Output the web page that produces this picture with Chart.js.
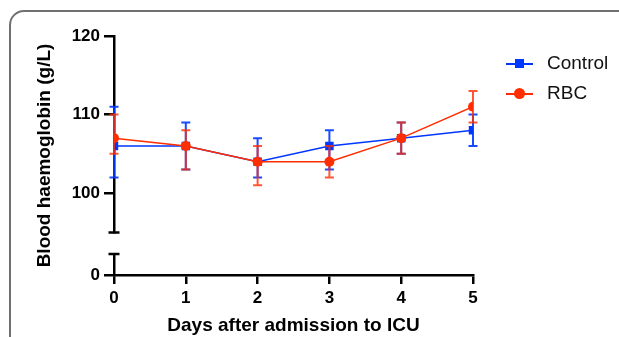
<!DOCTYPE html>
<html><head><meta charset="utf-8">
<script src="https://cdn.jsdelivr.net/npm/chart.js@4.4.0/dist/chart.umd.min.js"></script>
<style>
html,body{margin:0;padding:0;background:#fff;overflow:hidden}
#wrap{position:relative;width:619px;height:337px;overflow:hidden}
#frame{position:absolute;left:9px;top:10px;width:700px;height:400px;border:2px solid #707070;border-radius:15px;box-sizing:border-box}
#c{position:absolute;left:0;top:0}
.leg{position:absolute;left:506px;height:20px;width:110px;font:19px "Liberation Sans",Arial,sans-serif;color:#111}
.leg .ln{position:absolute;left:0;top:9px;width:27px;height:1.5px}
.leg .mk{position:absolute}
.leg .tx{position:absolute;left:41px;top:-2px;line-height:22px;white-space:nowrap}
</style></head><body>
<div id="wrap"><div id="frame"></div><canvas id="c" width="619" height="337"></canvas><div id="legend"></div></div>
<script>
// ---- data ----
const days = [0, 1, 2, 3, 4, 5];
const seriesNames = ['Control', 'RBC'];
const controlMean  = [106, 106, 104, 106, 107, 108];
const controlUpper = [111, 109, 107, 108, 109, 110];
const controlLower = [102, 103, 102, 103, 105, 106];
const rbcMean  = [107, 106, 104, 104, 107, 111];
const rbcUpper = [110, 108, 106, 106, 109, 113];
const rbcLower = [105, 103, 101, 102, 105, 109];
const yUpperTicks = [100, 110, 120];
const yLowerTicks = [0];
const xTitle = 'Days after admission to ICU';
const yTitle = 'Blood haemoglobin (g/L)';

// ---- styles ----
const BLUE = 'rgb(0,55,255)';
const RED = 'rgb(255,45,0)';
const FONT = '"Liberation Sans", Arial, sans-serif';

// legend (HTML)
const legend = document.getElementById('legend');
[[seriesNames[0], BLUE, 'rect'], [seriesNames[1], RED, 'circle']].forEach((s, i) => {
  const d = document.createElement('div');
  d.className = 'leg';
  d.style.top = (54 + i * 30) + 'px';
  const mk = s[2] === 'rect'
    ? `<div class="mk" style="left:9px;top:5px;width:9px;height:9px;background:${s[1]}"></div>`
    : `<div class="mk" style="left:8px;top:4px;width:11px;height:11px;border-radius:50%;background:${s[1]}"></div>`;
  d.innerHTML = `<div class="ln" style="background:${s[1]}"></div>${mk}<span class="tx">${s[0]}</span>`;
  legend.appendChild(d);
});

const errorBars = {
  id: 'errorBars',
  beforeDatasetDraw(chart, args) {
    const ds = chart.data.datasets[args.index];
    if (!ds.errUpper) return;
    const xs = chart.scales[args.meta.xAxisID], ys = chart.scales[args.meta.yAxisID];
    const ctx = chart.ctx;
    ctx.save();
    ctx.strokeStyle = ds.errColor;
    ctx.lineWidth = 2;
    ds.data.forEach((p, i) => {
      const x = xs.getPixelForValue(p.x);
      const y1 = ys.getPixelForValue(ds.errUpper[i]);
      const y2 = ys.getPixelForValue(ds.errLower[i]);
      ctx.beginPath();
      ctx.moveTo(x, y1); ctx.lineTo(x, y2);
      ctx.moveTo(x - 4.5, y1); ctx.lineTo(x + 4.5, y1);
      ctx.moveTo(x - 4.5, y2); ctx.lineTo(x + 4.5, y2);
      ctx.stroke();
    });
    ctx.restore();
  }
};

const axisExtras = {
  id: 'axisExtras',
  afterDraw(chart) {
    const ctx = chart.ctx;
    const top = chart.scales.y, low = chart.scales.yLow;
    const x = top.right;
    ctx.save();
    ctx.strokeStyle = '#000';
    ctx.lineWidth = 2.5;
    ctx.beginPath();
    ctx.moveTo(x - 5.5, top.bottom); ctx.lineTo(x + 5.5, top.bottom);
    ctx.moveTo(x - 5.5, low.top); ctx.lineTo(x + 5.5, low.top);
    ctx.stroke();
    // y title centred on the whole broken axis
    ctx.translate(45, (chart.chartArea.top + chart.chartArea.bottom) / 2);
    ctx.rotate(-Math.PI / 2);
    ctx.font = 'bold 19px ' + FONT;
    ctx.fillStyle = '#000';
    ctx.textAlign = 'center';
    ctx.textBaseline = 'middle';
    ctx.fillText(yTitle, 0, 0);
    ctx.restore();
  }
};

const tickFont = { family: FONT, size: 17, weight: 'bold' };
const yCommon = {
  type: 'linear', position: 'left', stack: 'hb',
  border: { color: '#000', width: 2.5 },
  grid: { drawOnChartArea: false, color: '#000', tickColor: '#000', tickLength: 10, tickWidth: 2.5, lineWidth: 2.5 },
  ticks: { color: '#000', font: tickFont, padding: 4 },
  afterFit: s => { s.width = 114; }
};

new Chart(document.getElementById('c'), {
  type: 'line',
  data: {
    datasets: [
      {
        label: seriesNames[0], order: 1, yAxisID: 'y',
        data: days.map((d, i) => ({ x: d, y: controlMean[i] })),
        errUpper: controlUpper, errLower: controlLower, errColor: 'rgba(0,55,255,0.9)',
        borderColor: BLUE, backgroundColor: BLUE, borderWidth: 1.5,
        pointStyle: 'rect', pointRadius: 6, pointBorderWidth: 0, tension: 0
      },
      {
        label: seriesNames[1], order: 0, yAxisID: 'y',
        data: days.map((d, i) => ({ x: d, y: rbcMean[i] })),
        errUpper: rbcUpper, errLower: rbcLower, errColor: 'rgba(255,45,0,0.8)',
        borderColor: RED, backgroundColor: RED, borderWidth: 1.5,
        pointStyle: 'circle', pointRadius: 5, pointBorderWidth: 0, tension: 0
      }
    ]
  },
  options: {
    responsive: false, animation: false, devicePixelRatio: 1,
    layout: { padding: { left: 0, top: 36, right: 146, bottom: 0 } },
    plugins: { legend: { display: false }, tooltip: { enabled: false } },
    scales: {
      x: {
        type: 'linear', position: 'bottom', min: 0, max: 5,
        border: { color: '#000', width: 2.5 },
        grid: { drawOnChartArea: false, color: '#000', tickColor: '#000', tickLength: 9, tickWidth: 2.5, lineWidth: 2.5 },
        ticks: { stepSize: 1, color: '#000', font: tickFont, padding: 4 },
        title: { display: true, text: xTitle, color: '#000', font: { family: FONT, size: 19, weight: 'bold' }, padding: { top: 0, bottom: 0 } },
        afterFit: s => { s.height = 62; }
      },
      y: Object.assign({}, yCommon, {
        min: 95, max: 120, stackWeight: 196.7, weight: 3,
        afterBuildTicks: s => { s.ticks = yUpperTicks.map(v => ({ value: v })); }
      }),
      yGap: {
        type: 'linear', position: 'left', stack: 'hb', stackWeight: 21.6, weight: 2, min: 0, max: 1,
        border: { display: false }, grid: { display: false }, ticks: { display: false },
        afterFit: s => { s.width = 114; }
      },
      yLow: Object.assign({}, yCommon, {
        min: 0, max: 2.7, stackWeight: 21, weight: 1,
        afterBuildTicks: s => { s.ticks = yLowerTicks.map(v => ({ value: v })); }
      })
    }
  },
  plugins: [errorBars, axisExtras]
});
</script>
</body></html>
